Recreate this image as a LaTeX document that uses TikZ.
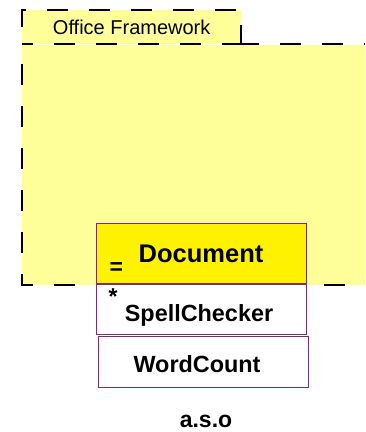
\documentclass[tikz,border=0pt]{standalone}
\usepackage{fontspec}
\setmainfont{Liberation Sans}
\usepackage{xcolor}
\usepackage{tikz}
\usetikzlibrary{positioning}
\definecolor{folderyellow}{RGB}{255,255,153}
\definecolor{classborder}{RGB}{128,48,96}

\begin{document}
\begin{tikzpicture}[x=1pt,y=-1pt,
  pkgfill/.style={fill=folderyellow,inner sep=0pt},
  pkgline/.style={line width=2pt,dash pattern=on 21pt off 21pt},
  classbox/.style={draw=classborder,line width=1pt,minimum width=210pt,inner sep=0pt,text depth=0pt,font=\fontsize{23.4}{28}\selectfont\bfseries},
  marker/.style={inner sep=0pt,anchor=base west,font=\fontsize{23}{28}\selectfont\bfseries}]
  \useasboundingbox (0,0) rectangle (365,432);
  \clip (0,0) rectangle (365,432);
  % package: tab + body
  \node[pkgfill,anchor=north west,minimum width=219pt,minimum height=34pt,font=\fontsize{20}{24}\selectfont] (tab) at (22,10) {Office Framework};
  \node[pkgfill,anchor=north west,minimum width=343pt,minimum height=240pt] (body) at (tab.south west) {};
  \draw[pkgline,dash phase=25pt] (tab.south west) -- (tab.north west) -- (tab.north east) -- (tab.south east);
  \draw[pkgline,dash phase=10pt] (tab.south west) -- (tab.south east);
  \draw[pkgline,dash phase=20pt] (body.north east) -- (tab.south east);
  \draw[pkgline,dash phase=22pt] (body.north west) -- (body.south west) -- (body.south);
  \draw[pkgline,dash phase=22pt] (body.south east) -- (body.south);
  % classes
  \node[classbox,fill=yellow,minimum height=60pt,text height=18pt,font=\fontsize{25.5}{30}\selectfont\bfseries] (doc) at (201,253) {Document};
  \node[classbox,fill=white,minimum height=50pt,text height=24pt,below=0pt of doc] (spell) {\hspace*{-4pt}SpellChecker};
  \node[classbox,fill=white,minimum height=51pt,text height=21pt,below=1pt of spell,xshift=2pt] (count) {\hspace*{-12pt}WordCount};
  \node[marker] (docmark) at ([xshift=14pt,yshift=-21pt]doc.west) {=};
  \node[marker] (spellmark) at ([xshift=13pt,yshift=-21pt]spell.north west) {*};
  \node[anchor=base,font=\fontsize{23}{28}\selectfont\bfseries] (aso) at (206,427) {a.s.o};
\end{tikzpicture}
\end{document}
